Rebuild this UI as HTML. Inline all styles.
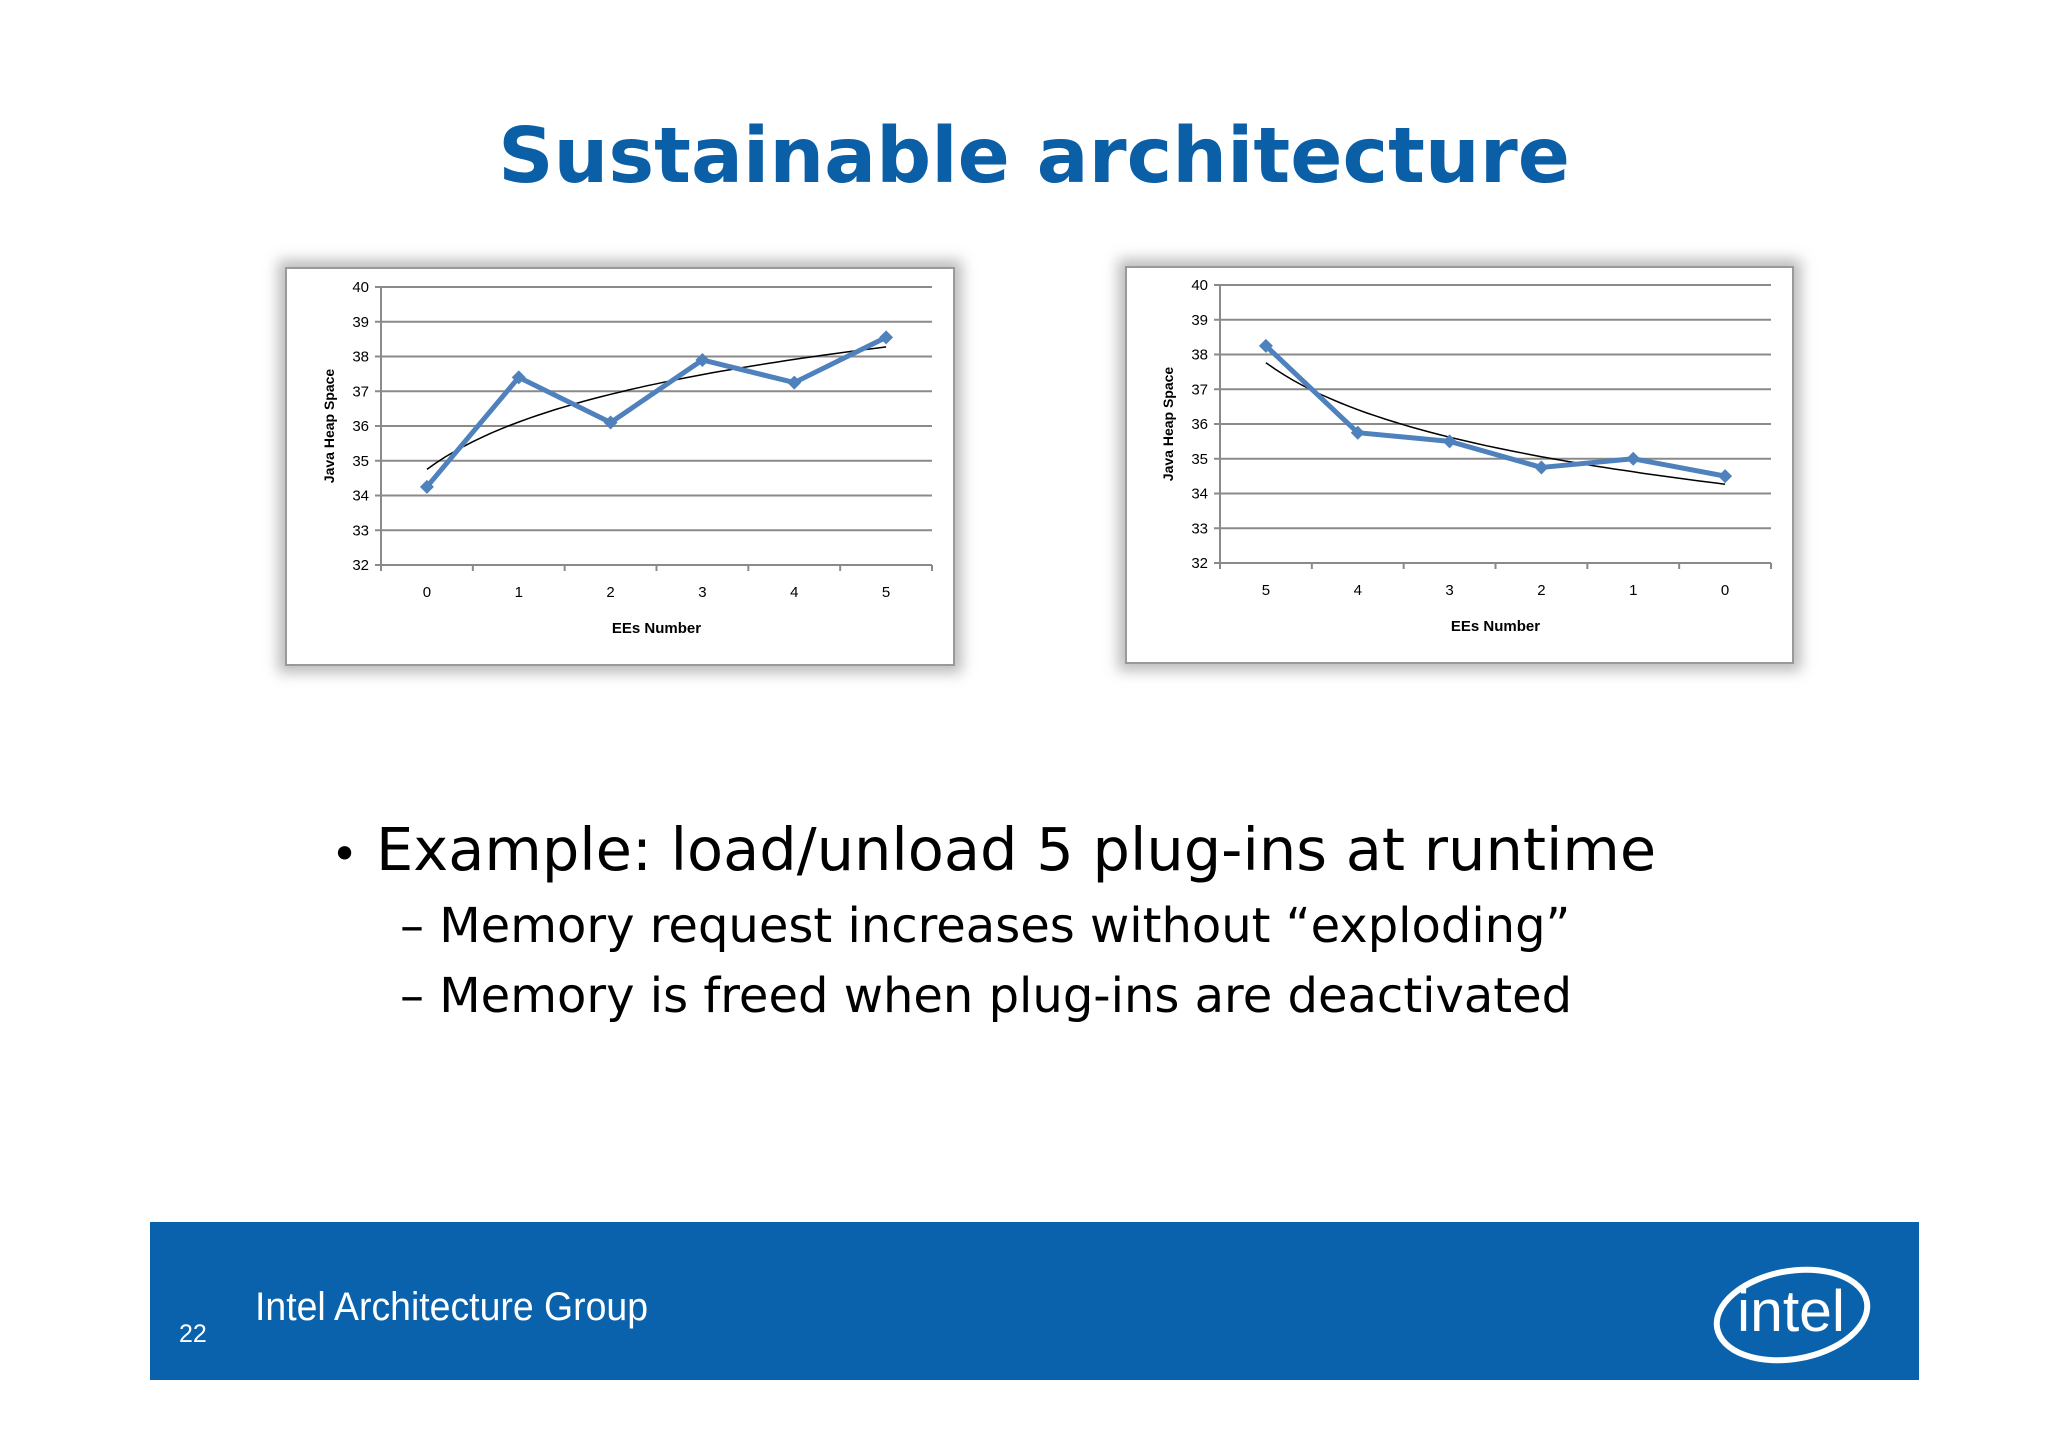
<!DOCTYPE html>
<html><head><meta charset="utf-8"><style>
html,body{margin:0;padding:0;background:#fff;}
svg{display:block;font-family:"Liberation Sans",sans-serif;}
</style></head><body>
<svg id="page" width="2048" height="1447" viewBox="0 0 2048 1447">
<defs>
<filter id="sh" x="-10%" y="-10%" width="120%" height="120%"><feGaussianBlur stdDeviation="7"/></filter>
</defs>
<text x="1034" y="182" text-anchor="middle" font-size="77" font-weight="bold" fill="#0b5fa7" font-family="DejaVu Sans, sans-serif">Sustainable architecture</text>
<g id="c1"></g>
<g id="c2"></g>
<g font-family="DejaVu Sans, sans-serif" fill="#000">
<text x="331" y="870" font-size="46">•</text>
<text x="376" y="870" font-size="59">Example: load/unload 5 plug-ins at runtime</text>
<text x="400" y="942" font-size="48">– Memory request increases without “exploding”</text>
<text x="400" y="1012" font-size="48">– Memory is freed when plug-ins are deactivated</text>
</g>
<rect x="150" y="1222" width="1769" height="158" fill="#0a62ac"/>
<text x="179" y="1342" font-size="25" fill="#fff">22</text>
<text x="255" y="1320" font-size="40" fill="#fff" textLength="393" lengthAdjust="spacingAndGlyphs">Intel Architecture Group</text>
<g transform="translate(18 13)">
<ellipse cx="1774" cy="1302" rx="76" ry="44" fill="none" stroke="#fff" stroke-width="6" transform="rotate(-10 1774 1302)"/>
<text x="1719" y="1318" font-size="58" fill="#fff" textLength="108" lengthAdjust="spacingAndGlyphs">intel</text>
</g>
</svg>
<script>
const categories1 = ["0","1","2","3","4","5"];
const values1 = [34.25, 37.4, 36.1, 37.9, 37.25, 38.55];
const categories2 = ["5","4","3","2","1","0"];
const values2 = [38.25, 35.75, 35.5, 34.75, 35.0, 34.5];
const yTicks = [32,33,34,35,36,37,38,39,40];
const NS = "http://www.w3.org/2000/svg";
function mk(parent, tag, attrs){const e=document.createElementNS(NS,tag);for(const k in attrs)e.setAttribute(k,attrs[k]);parent.appendChild(e);return e;}
function logFit(vals){const n=vals.length;let sx=0,sy=0,sxx=0,sxy=0;vals.forEach((v,i)=>{const x=Math.log(i+1);sx+=x;sy+=v;sxx+=x*x;sxy+=x*v;});const a=(n*sxy-sx*sy)/(n*sxx-sx*sx);const b=(sy-a*sx)/n;return t=>a*Math.log(t+1)+b;}
function draw(gid, box, plot, cats, vals){
  const g=document.getElementById(gid);
  const sh=mk(g,'rect',{x:box.x-8,y:box.y-8,width:box.w+16,height:box.h+16,fill:'#bbb',filter:'url(#sh)'});
  
  
  const bg=mk(g,'rect',{x:box.x,y:box.y,width:box.w,height:box.h,fill:'#fff',stroke:'#999','stroke-width':2});
  
  
  const Y=v=>plot.y0-(v-32)/8*(plot.y0-plot.y1);
  const step=(plot.x1-plot.x0)/cats.length;
  const X=i=>plot.x0+step*(i+0.5);
  yTicks.forEach(t=>{
    const l=mk(g,'line',{x1:plot.x0-6,x2:plot.x1,y1:Y(t),y2:Y(t),stroke:'#8a8a8a','stroke-width':2});
    
    
    const tx=mk(g,'text',{x:plot.x0-12,y:Y(t)+5,'text-anchor':'end','font-size':15,fill:'#000'});
    tx.textContent=t;
    
    
  });
  const ax=mk(g,'line',{x1:plot.x0,x2:plot.x0,y1:plot.y1,y2:plot.y0+6,stroke:'#8a8a8a','stroke-width':2});
  
  
  for(let i=0;i<=cats.length;i++){
    const tk=mk(g,'line',{x1:plot.x0+step*i,x2:plot.x0+step*i,y1:plot.y0,y2:plot.y0+6,stroke:'#8a8a8a','stroke-width':2});
    
    
  }
  cats.forEach((c,i)=>{
    const tx=mk(g,'text',{x:X(i),y:plot.y0+32,'text-anchor':'middle','font-size':15,fill:'#000'});
    tx.textContent=c;
    
    
  });
  const xt=mk(g,'text',{x:(plot.x0+plot.x1)/2,y:plot.y0+68,'text-anchor':'middle','font-size':15,'font-weight':'bold'});
  xt.textContent='EEs Number';
  
  
  const yc=(plot.y0+plot.y1)/2, yx=plot.x0-47;
  const yt=mk(g,'text',{x:yx,y:yc,'text-anchor':'middle','font-size':14,'font-weight':'bold',transform:`rotate(-90 ${yx} ${yc})`});
  yt.textContent='Java Heap Space';
  
  
  const f=logFit(vals);let d='';
  for(let k=0;k<=50;k++){const t=k/50*(vals.length-1);d+=(k?'L':'M')+(X(0)+t*step).toFixed(1)+','+Y(f(t)).toFixed(1);}
  const tr=mk(g,'path',{d:d,fill:'none',stroke:'#000','stroke-width':1.5});
  
  
  const ln=mk(g,'polyline',{points:vals.map((v,i)=>X(i)+','+Y(v)).join(' '),fill:'none',stroke:'#4f81bd','stroke-width':5,'stroke-linejoin':'round'});
  
  
  vals.forEach((v,i)=>{
    const cx=X(i),cy=Y(v),r=7;
    const p=mk(g,'polygon',{points:`${cx},${cy-r} ${cx+r},${cy} ${cx},${cy+r} ${cx-r},${cy}`,fill:'#4f81bd'});
    
    
  });
}
draw('c1',{x:286,y:268,w:668,h:397},{x0:381,x1:932,y0:565,y1:287},categories1,values1);
draw('c2',{x:1126,y:267,w:667,h:396},{x0:1220,x1:1771,y0:563,y1:285},categories2,values2);
</script>
</body></html>
